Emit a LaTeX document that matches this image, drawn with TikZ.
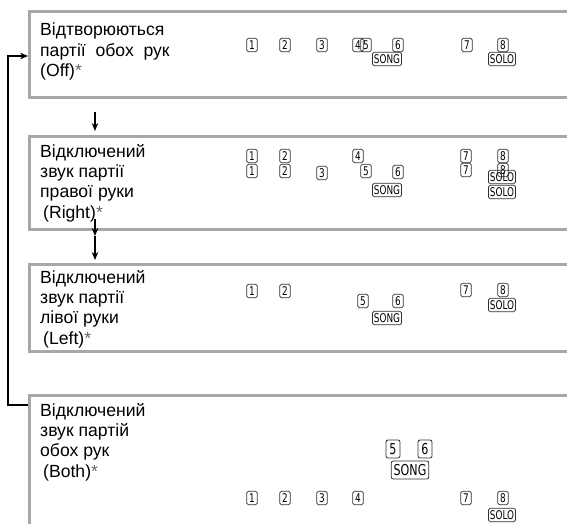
\documentclass[tikz,border=0pt]{standalone}
\usepackage{fontspec}
\setmainfont{Liberation Sans}
\newfontfamily\keyfont[FakeStretch=0.74]{DejaVu Sans}
\usetikzlibrary{arrows.meta}
\definecolor{boxgray}{HTML}{A8A8A8}
\definecolor{keygray}{HTML}{303030}
\newcommand{\astk}{\textcolor{black!60}{*}}
\tikzset{
  panel/.style={draw=boxgray, line width=2.6pt, anchor=north west, minimum width=600pt, inner sep=0pt},
  label/.style={anchor=north west, align=left, inner sep=0pt, font=\fontsize{17.6}{20.3}\selectfont},
  key/.style={draw=keygray, line width=0.7pt, rounded corners=1.6pt, inner sep=0pt,
    minimum width=10.5pt, minimum height=13.5pt, font=\keyfont\fontsize{12}{12}\selectfont},
  wkey/.style={key, inner xsep=1.4pt},
  bigkey/.style={draw=keygray, line width=0.8pt, rounded corners=2pt, inner sep=0pt,
    minimum width=14pt, minimum height=18pt, font=\keyfont\fontsize{15}{15}\selectfont},
  bigwkey/.style={bigkey, inner xsep=2.4pt},
  flow/.style={line width=1.3pt, -{Stealth[length=8pt,width=6.5pt]}},
}
\begin{document}
\begin{tikzpicture}[x=1pt,y=-1pt]
\useasboundingbox (0,0) rectangle (567,523);
\clip (0,0) rectangle (567,523);
% panels
\node[panel, minimum height=86pt] (b1) at (28,10) {};
\node[panel, minimum height=93pt] (b2) at (28,135) {};
\node[panel, minimum height=87pt] (b3) at (28,263) {};
\node[panel, minimum height=160pt] (b4) at (28,394) {};
% texts
\node[label] (t1) at (40,23) {Відтворюються\\партії\ \ обох\ \ рук\\(Off)\astk};
\node[label] (t2) at (40,144) {Відключений\\звук партії\\правої руки\\\hspace*{3pt}(Right)\astk};
\node[label] (t3) at (40,270) {Відключений\\звук партії\\лівої руки\\\hspace*{3pt}(Left)\astk};
\node[label] (t4) at (40,403) {Відключений\\звук партій\\обох рук\\\hspace*{3pt}(Both)\astk};
% row 1 keys
\node[key] (a1) at (252,45) {1};
\node[key] (a2) at (285,45) {2};
\node[key] (a3) at (322,45) {3};
\node[key] (a4) at (358,45) {4};
\node[key] (a5) at (366,45) {5};
\node[key] (a6) at (398,45) {6};
\node[key] (a7) at (467,45) {7};
\node[key] (a8) at (503,45) {8};
\node[wkey] (asong) at (387,59) {SONG};
\node[wkey] (asolo) at (502,59) {SOLO};
% row 2 keys
\node[key] (b1a) at (252,156) {1};
\node[key] (b1b) at (252,171) {1};
\node[key] (b2a) at (285,156) {2};
\node[key] (b2b) at (285,171) {2};
\node[key] (b3k) at (322,173) {3};
\node[key] (b4k) at (358,156) {4};
\node[key] (b5k) at (366,171) {5};
\node[key] (b6k) at (398,172) {6};
\node[wkey] (bsong) at (387,190) {SONG};
\node[key] (b7a) at (466,156) {7};
\node[key] (b7b) at (466,170) {7};
\node[key] (b8a) at (503,156) {8};
\node[key] (b8b) at (503,170) {8};
\node[wkey] (bsolo1) at (502,177) {SOLO};
\node[wkey] (bsolo2) at (502,192) {SOLO};
% row 3 keys
\node[key] (c1) at (252,291) {1};
\node[key] (c2) at (285,291) {2};
\node[key] (c5) at (363,301) {5};
\node[key] (c6) at (398,301) {6};
\node[wkey] (csong) at (387,318) {SONG};
\node[key] (c7) at (466,290) {7};
\node[key] (c8) at (503,290) {8};
\node[wkey] (csolo) at (502,305) {SOLO};
% row 4 keys
\node[bigkey] (d5) at (393,449) {5};
\node[bigkey] (d6) at (425,449) {6};
\node[bigwkey] (dsong) at (410,470) {SONG};
\node[key] (d1) at (252,498) {1};
\node[key] (d2) at (285,498) {2};
\node[key] (d3) at (322,498) {3};
\node[key] (d4) at (358,498) {4};
\node[key] (d7) at (466,498) {7};
\node[key] (d8) at (503,498) {8};
\node[wkey] (dsolo) at (502,515) {SOLO};
% connectors
\coordinate (p1s) at (95,112);
\coordinate (p1e) at (95,131);
\coordinate (p2s) at (95,219);
\coordinate (p2m) at (95,236);
\coordinate (p2e) at (95,260);
\coordinate (loopb) at (28,405);
\coordinate (loopt) at (28,56);
\draw[flow] (p1s) -- (p1e);
\draw[flow] (p2s) -- (p2m);
\draw[flow] (p2m) -- (p2e);
\draw[flow] (loopb) -- ++(-20,0) |- (loopt);
\end{tikzpicture}
\end{document}
